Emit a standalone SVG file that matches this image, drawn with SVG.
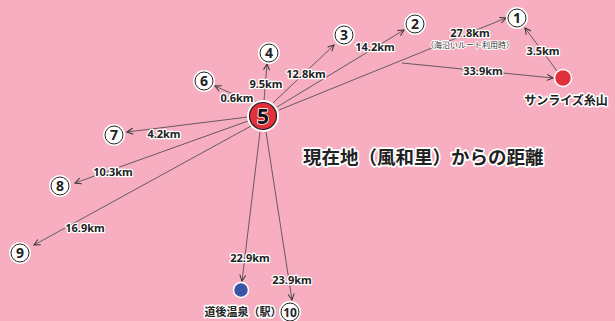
<svg xmlns="http://www.w3.org/2000/svg" width="615" height="321" viewBox="0 0 615 321">
<defs>
<marker id="ah" markerWidth="8" markerHeight="8" refX="7" refY="4" orient="auto" markerUnits="userSpaceOnUse">
<path d="M1,1 L7,4 L1,7" fill="none" stroke="#333" stroke-width="1"/>
</marker>
</defs>
<style>
.ln{stroke:#444;stroke-width:0.8;fill:none}
.lb{font-family:"Noto Sans","Liberation Sans",sans-serif;font-weight:700;font-size:11px;fill:#222;stroke:#fff;stroke-width:2.5;paint-order:stroke;stroke-linejoin:round;text-anchor:middle}
.sm{font-family:"Noto Sans CJK JP",sans-serif;font-size:8px;fill:#333;stroke:#fff;stroke-width:2;paint-order:stroke;stroke-linejoin:round;text-anchor:middle}
.nc{fill:#fff}
.nr{fill:#fff;stroke:#222;stroke-width:1}
.nt{font-family:"Noto Sans","Liberation Sans",sans-serif;font-weight:700;font-size:14px;fill:#222;text-anchor:middle}
.pl{font-family:"Noto Sans CJK JP",sans-serif;font-weight:700;font-size:12px;fill:#222;stroke:#fff;stroke-width:3;paint-order:stroke;stroke-linejoin:round;text-anchor:middle}
.tt{font-family:"Noto Sans CJK JP",sans-serif;font-weight:700;font-size:18.5px;fill:#222;stroke:#fff;stroke-width:3.5;paint-order:stroke;stroke-linejoin:round}
</style>
<rect width="615" height="321" fill="#F6AEC0"/>
<g id="connectors">
<line class="ln" x1="264" y1="101" x2="267" y2="64" marker-end="url(#ah)"/>
<line class="ln" x1="255" y1="104" x2="215" y2="86" marker-end="url(#ah)"/>
<line class="ln" x1="273" y1="103" x2="334" y2="45" marker-end="url(#ah)"/>
<line class="ln" x1="277" y1="107" x2="404" y2="30" marker-end="url(#ah)"/>
<line class="ln" x1="279" y1="110" x2="506" y2="18" marker-end="url(#ah)"/>
<line class="ln" x1="402" y1="63" x2="553" y2="78" marker-end="url(#ah)"/>
<line class="ln" x1="557" y1="71" x2="525" y2="28" marker-end="url(#ah)"/>
<line class="ln" x1="248" y1="117" x2="127" y2="132" marker-end="url(#ah)"/>
<line class="ln" x1="248" y1="121" x2="75" y2="183" marker-end="url(#ah)"/>
<line class="ln" x1="251" y1="126" x2="34" y2="245" marker-end="url(#ah)"/>
<line class="ln" x1="260" y1="132" x2="242" y2="281" marker-end="url(#ah)"/>
<line class="ln" x1="266" y1="132" x2="292" y2="300" marker-end="url(#ah)"/>
</g>
<g id="labels">
<text class="lb" x="266" y="88">9.5km</text>
<text class="lb" x="237" y="102">0.6km</text>
<text class="lb" x="306" y="78">12.8km</text>
<text class="lb" x="375" y="51">14.2km</text>
<text class="lb" x="470" y="37">27.8km</text>
<text class="sm" x="470" y="48">（海沿いルート利用時）</text>
<text class="lb" x="483" y="75">33.9km</text>
<text class="lb" x="543" y="55">3.5km</text>
<text class="lb" x="164" y="138">4.2km</text>
<text class="lb" x="113" y="176">10.3km</text>
<text class="lb" x="85" y="232">16.9km</text>
<text class="lb" x="250" y="262">22.9km</text>
<text class="lb" x="292" y="284">23.9km</text>
</g>
<g id="node1"><circle class="nc" cx="517" cy="18" r="11"/><circle class="nr" cx="517" cy="18" r="9"/><text class="nt" x="517" y="23">1</text></g>
<g id="node2"><circle class="nc" cx="415" cy="24" r="11"/><circle class="nr" cx="415" cy="24" r="9"/><text class="nt" x="415" y="29">2</text></g>
<g id="node3"><circle class="nc" cx="344" cy="35" r="11"/><circle class="nr" cx="344" cy="35" r="9"/><text class="nt" x="344" y="40">3</text></g>
<g id="node4"><circle class="nc" cx="269" cy="53" r="11"/><circle class="nr" cx="269" cy="53" r="9"/><text class="nt" x="269" y="58">4</text></g>
<g id="node6"><circle class="nc" cx="204" cy="81" r="11"/><circle class="nr" cx="204" cy="81" r="9"/><text class="nt" x="204" y="86">6</text></g>
<g id="node7"><circle class="nc" cx="114" cy="135" r="11"/><circle class="nr" cx="114" cy="135" r="9"/><text class="nt" x="114" y="140">7</text></g>
<g id="node8"><circle class="nc" cx="60" cy="186" r="11"/><circle class="nr" cx="60" cy="186" r="9"/><text class="nt" x="60" y="191">8</text></g>
<g id="node9"><circle class="nc" cx="20" cy="253" r="11"/><circle class="nr" cx="20" cy="253" r="9"/><text class="nt" x="20" y="258">9</text></g>
<g id="node10"><circle class="nc" cx="290" cy="312" r="11"/><circle class="nr" cx="290" cy="312" r="9"/><text class="nt" x="290" y="317" font-size="12" style="font-size:12px">10</text></g>
<g id="node5">
<circle cx="263" cy="116" r="16" fill="#fff"/>
<circle cx="263" cy="116" r="13.5" fill="#E0313B" stroke="#222" stroke-width="1.2"/>
<text x="263" y="123.5" font-family="Noto Sans, Liberation Sans, sans-serif" font-weight="700" font-size="21" fill="#111" stroke="#fff" stroke-width="1.5" paint-order="stroke" text-anchor="middle">5</text>
</g>
<g id="sunrise">
<circle cx="563" cy="78" r="8.5" fill="#E0313B" stroke="#fff" stroke-width="1.5"/>
<text class="pl" x="566" y="105">サンライズ糸山</text>
</g>
<g id="dogo">
<circle cx="241" cy="290" r="7.5" fill="#3A55A8" stroke="#fff" stroke-width="1.5"/>
<text class="pl" x="243" y="316" style="font-size:11px">道後温泉（駅）</text>
</g>
<text class="tt" x="303" y="164">現在地（風和里）からの距離</text>
</svg>
